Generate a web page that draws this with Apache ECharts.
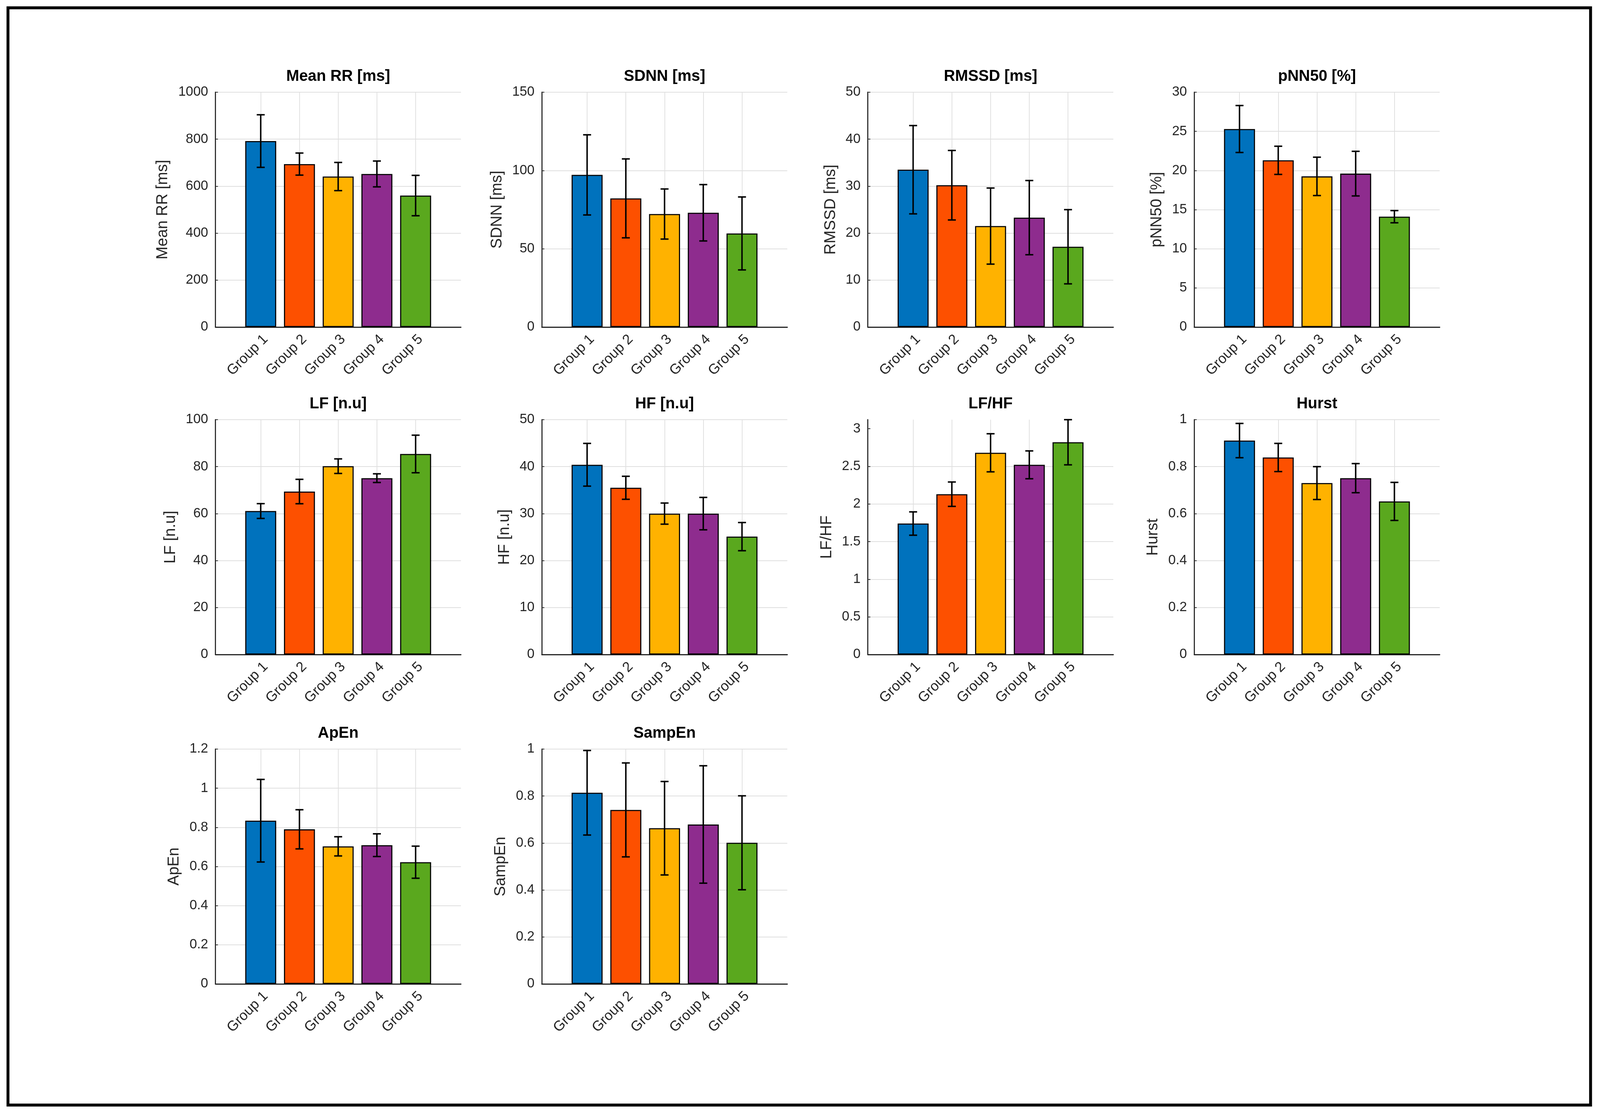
<!DOCTYPE html>
<html>
<head>
<meta charset="utf-8">
<script src="https://cdn.jsdelivr.net/npm/echarts@6/dist/echarts.min.js"></script>
<style>
html,body{margin:0;padding:0;background:#ffffff;overflow:hidden;width:100%;height:100%;}
#c{position:absolute;left:0;top:0;width:100vw;height:100vh;}
</style>
</head>
<body>
<div id="c"></div>
<script>
// ---------------- data ----------------
const categories = ['Group 1', 'Group 2', 'Group 3', 'Group 4', 'Group 5'];
const barColors = ['#0072BD', '#FD5000', '#FFB200', '#8E2C8E', '#5AA81E'];

const panelTitles = ['Mean RR [ms]', 'SDNN [ms]', 'RMSSD [ms]', 'pNN50 [%]', 'LF [n.u]', 'HF [n.u]', 'LF/HF', 'Hurst', 'ApEn', 'SampEn'];
const yAxisLabels = ['Mean RR [ms]', 'SDNN [ms]', 'RMSSD [ms]', 'pNN50 [%]', 'LF [n.u]', 'HF [n.u]', 'LF/HF', 'Hurst', 'ApEn', 'SampEn'];
const yMax  = [1000, 150, 50, 30, 100, 50, 3.12, 1, 1.2, 1];
const yStep = [200, 50, 10, 5, 20, 10, 0.5, 0.2, 0.2, 0.2];

const meanRRMean = [792, 694, 641, 652, 560];
const meanRRSd   = [112, 47, 60, 55, 86];
const sdnnMean   = [97.2, 82.2, 72.2, 73.0, 59.8];
const sdnnSd     = [25.6, 25.2, 16.0, 18.0, 23.3];
const rmssdMean  = [33.5, 30.2, 21.5, 23.3, 17.1];
const rmssdSd    = [9.4, 7.4, 8.1, 7.9, 7.9];
const pnn50Mean  = [25.3, 21.3, 19.25, 19.6, 14.1];
const pnn50Sd    = [3.0, 1.8, 2.45, 2.85, 0.78];
const lfMean     = [61.1, 69.4, 80.2, 75.1, 85.4];
const lfSd       = [3.15, 5.2, 3.1, 1.85, 8.0];
const hfMean     = [40.4, 35.5, 30.0, 30.0, 25.1];
const hfSd       = [4.55, 2.45, 2.25, 3.45, 3.0];
const lfhfMean   = [1.74, 2.13, 2.68, 2.52, 2.82];
const lfhfSd     = [0.155, 0.162, 0.253, 0.185, 0.30];
const hurstMean  = [0.911, 0.839, 0.730, 0.751, 0.652];
const hurstSd    = [0.073, 0.060, 0.070, 0.062, 0.081];
const apenMean   = [0.834, 0.790, 0.703, 0.709, 0.622];
const apenSd     = [0.211, 0.100, 0.049, 0.058, 0.082];
const sampenMean = [0.814, 0.741, 0.663, 0.679, 0.601];
const sampenSd   = [0.180, 0.200, 0.199, 0.250, 0.200];

const allMeans = [meanRRMean, sdnnMean, rmssdMean, pnn50Mean, lfMean, hfMean, lfhfMean, hurstMean, apenMean, sampenMean];
const allSds   = [meanRRSd, sdnnSd, rmssdSd, pnn50Sd, lfSd, hfSd, lfhfSd, hurstSd, apenSd, sampenSd];

// ---------------- layout / style (designed on a 4412 x 2856 canvas, scaled to the viewport) ----------------
const W = window.innerWidth, H = window.innerHeight;
const sx = W / 4412, sy = H / 2856, s = Math.min(sx, sy);
const X = v => v * sx, Y = v => v * sy, S = v => v * s;

const FONT = '"Liberation Sans", Arial, Helvetica, sans-serif';
const colLeft = [594, 1494, 2393, 3293];
const rowTop = [236, 1074, 1917];
const plotW = 677, plotH = 601;
const yTickFont = S(37), xTickFont = S(39), labelFont = S(43), titleFont = S(43);
const gridColor = '#DFDFDF';
const axisColor = '#262626';

const mctx = document.createElement('canvas').getContext('2d');
mctx.font = yTickFont + 'px ' + FONT;

function fmtTick(v, step) {
  const k = v / step;
  if (Math.abs(k - Math.round(k)) > 1e-6) return '';
  return String(+v.toFixed(2));
}

const grids = [], xAxes = [], yAxes = [], series = [], titles = [];

for (let i = 0; i < panelTitles.length; i++) {
  const r = Math.floor(i / 4), c = i % 4;
  const left = X(colLeft[c]), top = Y(rowTop[r]);
  const w = X(plotW), h = Y(plotH);
  grids.push({ left: left, top: top, width: w, height: h, containLabel: false, outerBoundsMode: 'none' });

  const step = yStep[i];
  const yTicks = [];
  let maxW = 0;
  for (let k = 0; k * step <= yMax[i] + 1e-9; k++) {
    const v = +(k * step).toFixed(6);
    yTicks.push(v);
    maxW = Math.max(maxW, mctx.measureText(fmtTick(v, step)).width);
  }

  titles.push({
    text: panelTitles[i],
    left: left + w / 2,
    top: top - Y(60),
    textAlign: 'center',
    padding: 0,
    textStyle: { fontFamily: FONT, fontSize: titleFont, fontWeight: 'bold', color: '#000' }
  });

  xAxes.push({
    gridIndex: i,
    type: 'value',
    min: -0.17,
    max: 6.17,
    axisLine: { show: true, onZero: false, lineStyle: { color: axisColor, width: S(3) } },
    axisTick: { show: true, inside: true, length: S(7), customValues: [1, 2, 3, 4, 5], lineStyle: { color: axisColor, width: S(2) } },
    axisLabel: {
      show: true,
      customValues: [1, 2, 3, 4, 5],
      rotate: 45,
      margin: S(14),
      verticalAlign: 'top',
      fontFamily: FONT,
      fontSize: xTickFont,
      color: axisColor,
      formatter: function (v) { return categories[Math.round(v) - 1] || ''; }
    },
    splitLine: { show: true, lineStyle: { color: gridColor, width: S(2) } }
  });

  yAxes.push({
    gridIndex: i,
    type: 'value',
    min: 0,
    max: yMax[i],
    interval: step,
    name: yAxisLabels[i],
    nameLocation: 'middle',
    nameRotate: 90,
    nameGap: Math.round(maxW + S(40)),
    nameTextStyle: { fontFamily: FONT, fontSize: labelFont, color: axisColor },
    axisLine: { show: true, onZero: false, lineStyle: { color: axisColor, width: S(3) } },
    axisTick: { show: true, inside: true, length: S(7), customValues: yTicks, lineStyle: { color: axisColor, width: S(2) } },
    axisLabel: {
      show: true,
      margin: S(20),
      customValues: yTicks,
      fontFamily: FONT,
      fontSize: yTickFont,
      color: axisColor,
      formatter: function (v) { return fmtTick(v, step); }
    },
    splitLine: { show: true, showMaxLine: Math.abs(yMax[i] / step - Math.round(yMax[i] / step)) < 1e-6, lineStyle: { color: gridColor, width: S(2) } }
  });

  const means = allMeans[i], sds = allSds[i];

  series.push({
    type: 'bar',
    xAxisIndex: i,
    yAxisIndex: i,
    barWidth: '80%',
    z: 2,
    silent: true,
    itemStyle: { borderColor: '#000', borderWidth: S(3) },
    data: means.map(function (m, j) {
      return { value: [j + 1, m], itemStyle: { color: barColors[j] } };
    })
  });

  series.push({
    type: 'custom',
    xAxisIndex: i,
    yAxisIndex: i,
    z: 5,
    clip: false,
    silent: true,
    encode: { x: 0, y: 1 },
    data: means.map(function (m, j) { return [j + 1, m, sds[j]]; }),
    renderItem: function (params, api) {
      const x = api.value(0), m = api.value(1), sd = api.value(2);
      const pTop = api.coord([x, m + sd]);
      const pBot = api.coord([x, m - sd]);
      const cw = S(11);
      const st = { stroke: '#000', lineWidth: S(4), fill: null };
      return {
        type: 'group',
        children: [
          { type: 'line', shape: { x1: pBot[0], y1: pBot[1], x2: pTop[0], y2: pTop[1] }, style: st },
          { type: 'line', shape: { x1: pTop[0] - cw, y1: pTop[1], x2: pTop[0] + cw, y2: pTop[1] }, style: st },
          { type: 'line', shape: { x1: pBot[0] - cw, y1: pBot[1], x2: pBot[0] + cw, y2: pBot[1] }, style: st }
        ]
      };
    }
  });
}

const chart = echarts.init(document.getElementById('c'), null, { renderer: 'canvas' });
chart.setOption({
  backgroundColor: '#ffffff',
  animation: false,
  title: titles,
  grid: grids,
  xAxis: xAxes,
  yAxis: yAxes,
  series: series,
  graphic: [{
    type: 'rect',
    silent: true,
    shape: { x: X(22), y: Y(20), width: X(4364), height: Y(2808) },
    style: { fill: null, stroke: '#000', lineWidth: S(8) },
    z: 100
  }]
});
</script>
</body>
</html>
